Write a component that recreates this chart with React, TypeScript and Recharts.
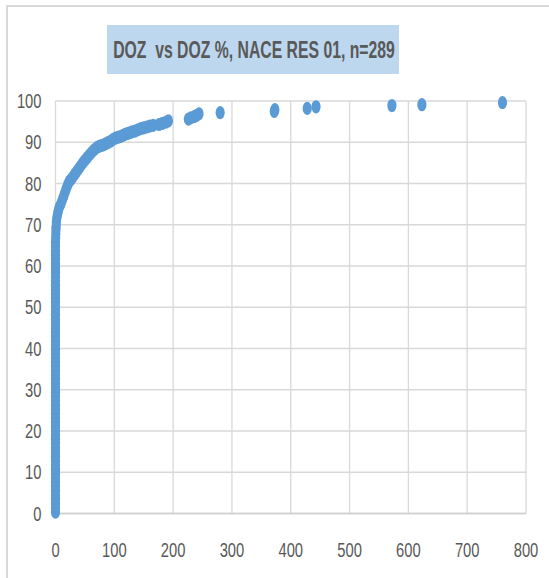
import React from 'react';
import { ScatterChart, Scatter, XAxis, YAxis, CartesianGrid } from 'recharts';

const chartTitle = 'DOZ  vs DOZ %, NACE RES 01, n=289';
const xTicks = [0, 100, 200, 300, 400, 500, 600, 700, 800];
const yTicks = [0, 10, 20, 30, 40, 50, 60, 70, 80, 90, 100];

// DOZ ≈ 0 column
const lowDoz = [
  0, 0, 0, 0, 0, 0, 0, 0, 0, 0, 0, 0, 0, 0, 0, 0, 0, 0, 0, 0,
  0, 0, 0, 0, 0, 0, 0, 0, 0, 0, 0, 0, 0, 0, 0, 0, 0, 0, 0, 0,
  0, 0, 0, 0, 0, 0, 0, 0, 0, 0, 0, 0, 0, 0, 0, 0, 0, 0, 0, 0,
  0, 0, 0, 0, 0.3, 0.5, 0.8, 1,
];
const lowPct = [
  0.35, 1.38, 2.42, 3.46, 4.5, 5.54, 6.57, 7.61, 8.65, 9.69,
  10.73, 11.76, 12.8, 13.84, 14.88, 15.92, 16.96, 17.99, 19.03, 20.07,
  21.11, 22.15, 23.18, 24.22, 25.26, 26.3, 27.34, 28.37, 29.41, 30.45,
  31.49, 32.53, 33.56, 34.6, 35.64, 36.68, 37.72, 38.75, 39.79, 40.83,
  41.87, 42.91, 43.94, 44.98, 46.02, 47.06, 48.1, 49.13, 50.17, 51.21,
  52.25, 53.29, 54.33, 55.36, 56.4, 57.44, 58.48, 59.52, 60.55, 61.59,
  62.63, 63.67, 64.71, 65.74, 66.78, 67.82, 68.86, 69.55,
];

// rising part of the curve
const curveDoz = [
  1.5, 2, 3, 4, 5, 6, 8, 10, 12, 14, 16, 18, 20, 22, 24, 27, 30, 33, 36, 39,
  42, 45, 48, 51, 54, 57, 60, 63, 66, 70, 74, 78, 82, 86, 90, 94, 98, 102, 106, 110,
  114, 118, 122, 126, 130, 135, 140, 145, 150, 155, 160, 166,
];
const curvePct = [
  70.6, 71.4, 72.2, 72.9, 73.5, 74.1, 74.7, 75.4, 76.2, 77.0, 77.8, 78.6, 79.4, 80.1, 80.6, 81.1, 81.7, 82.3, 82.9, 83.5,
  84.1, 84.7, 85.3, 85.8, 86.3, 86.8, 87.3, 87.8, 88.2, 88.7, 89.0, 89.2, 89.4, 89.7, 90.0, 90.3, 90.7, 91.0, 91.2, 91.4,
  91.6, 91.9, 92.1, 92.3, 92.5, 92.7, 93.0, 93.3, 93.5, 93.7, 93.9, 94.1,
];

// sparse tail
const tailDoz = [176, 182, 188, 192, 226, 230, 236, 240, 244, 280, 372, 373, 428, 443, 572, 623, 760];
const tailPct = [94.3, 94.6, 94.9, 95.2, 95.6, 95.9, 96.2, 96.5, 96.9, 97.2, 97.5, 97.9, 98.2, 98.6, 98.9, 99.1, 99.6];

const toPoints = (xs: number[], ys: number[]) => xs.map((x, i) => ({ doz: x, pct: ys[i] }));
const data = [
  ...toPoints(lowDoz, lowPct),
  ...toPoints(curveDoz, curvePct),
  ...toPoints(tailDoz, tailPct),
];

const DOT_COLOR = '#5B9BD5';
const TEXT_COLOR = '#595959';

const DotShape = (props: any) => {
  const { cx, cy } = props;
  if (cx == null || cy == null) return null;
  return <ellipse cx={cx} cy={cy} rx={4.6} ry={6.6} fill={DOT_COLOR} />;
};

const YTick = (props: any) => {
  const { x, y, payload } = props;
  const label = String(payload.value);
  return (
    <text
      x={x - 14}
      y={y + 7}
      textAnchor="end"
      fontFamily="'Liberation Sans', Arial, sans-serif"
      fontSize={19.5}
      fill={TEXT_COLOR}
      textLength={label.length * 8.2}
      lengthAdjust="spacingAndGlyphs"
    >
      {label}
    </text>
  );
};

const XTick = (props: any) => {
  const { x, y, payload } = props;
  const label = String(payload.value);
  return (
    <text
      x={x}
      y={y + 43}
      textAnchor="middle"
      fontFamily="'Liberation Sans', Arial, sans-serif"
      fontSize={19.5}
      fill={TEXT_COLOR}
      textLength={label.length * 8.2}
      lengthAdjust="spacingAndGlyphs"
    >
      {label}
    </text>
  );
};

export default function App() {
  return (
    <div style={{ position: 'absolute', left: 0, top: 0, width: 549, height: 578, background: '#fff', overflow: 'hidden' }}>
      <div
        style={{
          position: 'absolute',
          left: 6,
          top: 5,
          width: 549,
          height: 578,
          borderLeft: '2px solid #d9d9d9',
          borderTop: '2px solid #d9d9d9',
        }}
      />
      <svg width={549} height={90} style={{ position: 'absolute', left: 0, top: 0, overflow: 'visible' }}>
        <rect x={107} y={25} width={292} height={49} fill="#BDD7EE" />
        <text
          x={0}
          y={0}
          transform="translate(254 57.5) scale(0.644 1)"
          textAnchor="middle"
          fontFamily="'Liberation Sans', Arial, sans-serif"
          fontWeight="bold"
          fontSize={24.5}
          fill={TEXT_COLOR}
          style={{ whiteSpace: 'pre' }}
        >
          {chartTitle}
        </text>
      </svg>
      <div style={{ position: 'absolute', left: 0, top: 0 }}>
        <ScatterChart width={549} height={578} margin={{ top: 101, right: 23, bottom: 0, left: 0 }}>
          <CartesianGrid stroke="#d9d9d9" strokeWidth={1.3} />
          <XAxis
            type="number"
            dataKey="doz"
            domain={[0, 800]}
            ticks={xTicks}
            height={64.5}
            tickLine={false}
            tickSize={0}
            tickMargin={0}
            axisLine={{ stroke: '#cfcfcf', strokeWidth: 1.5 }}
            tick={<XTick />}
            interval={0}
          />
          <YAxis
            type="number"
            dataKey="pct"
            domain={[0, 100]}
            ticks={yTicks}
            width={55.5}
            tickLine={false}
            tickSize={0}
            tickMargin={0}
            axisLine={false}
            tick={<YTick />}
            interval={0}
          />
          <Scatter data={data} shape={<DotShape />} isAnimationActive={false} />
        </ScatterChart>
      </div>
    </div>
  );
}
